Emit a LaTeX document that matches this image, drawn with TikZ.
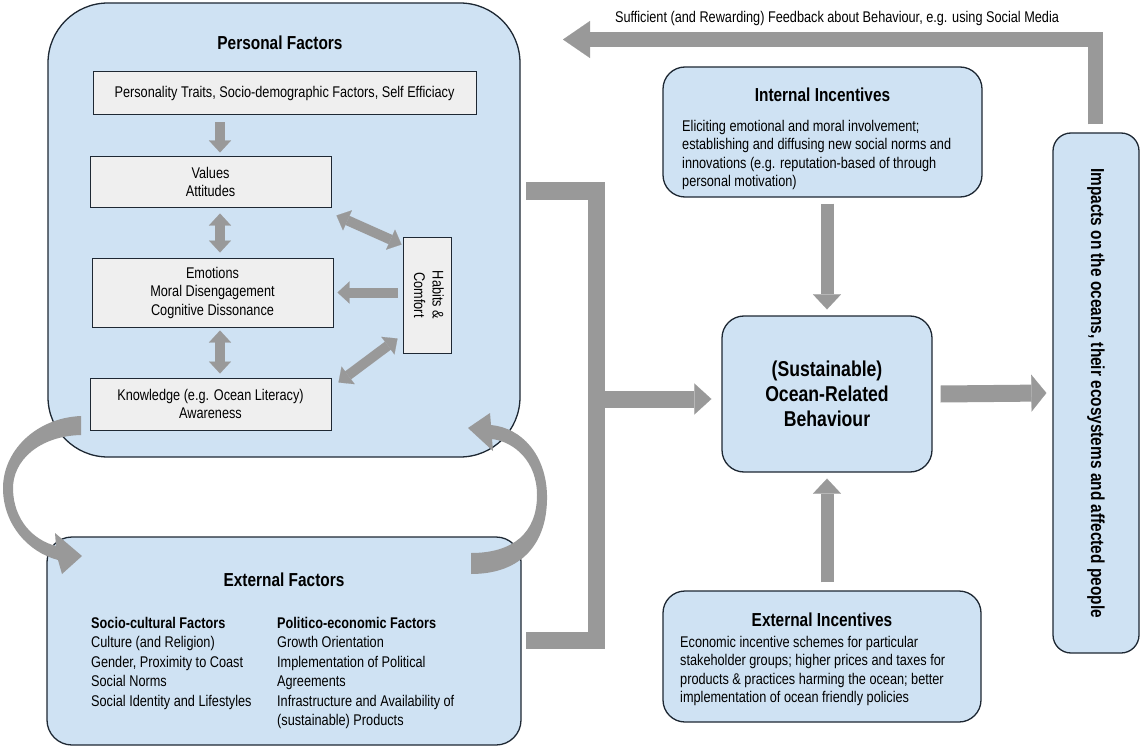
\documentclass[tikz,border=0pt]{standalone}
\usepackage{fontspec}
\setmainfont{Liberation Sans}[FakeStretch=0.82]
\usepackage{graphicx}
\usetikzlibrary{arrows.meta, positioning, calc}

\definecolor{oceanblue}{HTML}{CFE2F3}
\definecolor{edgedark}{HTML}{1E2833}
\definecolor{factorgray}{HTML}{EFEFEF}
\definecolor{flowgray}{HTML}{999999}

\newcommand{\bodyfont}{\fontsize{15.5}{18.5}\selectfont}
\newcommand{\headfont}{\fontsize{18.8}{22}\selectfont\bfseries}

\tikzset{
  bigbox/.style={draw=edgedark, line width=1.3pt, fill=oceanblue},
  factorbox/.style={draw=edgedark, line width=1pt, fill=factorgray, align=center, font=\bodyfont, inner sep=0pt},
  plaintext/.style={inner sep=0pt, font=\bodyfont},
  headtext/.style={inner sep=0pt, font=\headfont},
  smallflow/.style={draw=flowgray, line width=10pt, arrows={-Triangle[width=22pt,length=12pt,line width=0.1pt]}},
  smalltwo/.style={draw=flowgray, line width=10pt, arrows={Triangle[width=22pt,length=12pt,line width=0.1pt]-Triangle[width=22pt,length=12pt,line width=0.1pt]}},
  midflow/.style={draw=flowgray, line width=13pt, arrows={-Triangle[width=28pt,length=15pt,line width=0.1pt]}},
  wideflow/.style={draw=flowgray, line width=17pt, arrows={-Triangle[width=31pt,length=17pt,line width=0.1pt]}},
  rightflow/.style={draw=flowgray, line width=17pt, arrows={-Triangle[width=37pt,length=15pt,line width=0.1pt]}},
  topflow/.style={draw=flowgray, line width=15pt, arrows={-Triangle[width=37pt,length=27pt,line width=0.1pt]}},
  bracketbar/.style={draw=flowgray, line width=17pt}
}

\begin{document}
\begin{tikzpicture}[x=1pt, y=-1pt]
  \useasboundingbox (0,0) rectangle (1141,749);
  \fill[white] (0,0) rectangle (1141,749);

  % Personal factors
  \node[bigbox, rounded corners=60pt, minimum width=472pt, minimum height=454pt] (persbox) at (284,230) {};
  \node[headtext] (perstitle) at (280,43) {Personal Factors};
  \node[factorbox, minimum width=383pt, minimum height=43pt] (traits) at (284.5,93.5) {Personality Traits, Socio-demographic Factors, Self Efficiacy};
  \node[factorbox, minimum width=241pt, minimum height=50pt] (values) at (210.5,182) {Values\\Attitudes};
  \node[factorbox, minimum width=241pt, minimum height=69pt] (emotions) at (212.5,292.5) {Emotions\\Moral Disengagement\\Cognitive Dissonance};
  \node[factorbox, minimum width=241pt, minimum height=52pt] (knowledge) at (210.5,404) {Knowledge (e.g. Ocean Literacy)\\Awareness};
  \node[factorbox, minimum width=48pt, minimum height=116pt] (habits) at (427,295) {\rotatebox{-90}{\begin{tabular}{@{}c@{}}Habits \&\\Comfort\end{tabular}}};

  \draw[smallflow] ($(traits.south)+(-64.5,7)$) -- ($(values.north)+(9.5,-4)$);
  \draw[smalltwo] ($(values.south)+(9.5,6)$) -- ($(emotions.north)+(7.5,-5)$);
  \draw[smalltwo] ($(emotions.south)+(7.5,3)$) -- ($(knowledge.north)+(9.5,-4)$);
  \draw[smalltwo] ($(values.south east)+(5,8)$) -- ($(habits.north west)+(-1,8)$);
  \draw[smallflow] ($(habits.west |- emotions.east)+(-5,0)$) -- ($(emotions.east)+(4,0)$);
  \draw[smalltwo] ($(habits.south west)+(-5,-15)$) -- ($(knowledge.north east)+(7,5)$);

  % External factors
  \node[bigbox, rounded corners=25pt, minimum width=474pt, minimum height=208pt] (extbox) at (284,641) {};
  \node[headtext] (exttitle) at (284,580) {External Factors};
  \node[plaintext, font=\fontsize{15.5}{19.5}\selectfont, align=left, anchor=north west] (sociocult) at (91,617) {\textbf{Socio-cultural Factors}\\Culture (and Religion)\\Gender, Proximity to Coast\\Social Norms\\Social Identity and Lifestyles};
  \node[plaintext, font=\fontsize{15.5}{19.5}\selectfont, align=left, anchor=north west] (politeco) at (277,617) {\textbf{Politico-economic Factors}\\Growth Orientation\\Implementation of Political\\Agreements\\Infrastructure and Availability of\\(sustainable) Products};

  % loop arrows between the two factor boxes
  \fill[flowgray] (81,416) .. controls (35,418) and (2,452) .. (3,490) .. controls (4,525) and (28,552) .. (58,560) -- (62,574) -- (82,556) -- (55,533) -- (56,546) .. controls (33,540) and (14,520) .. (13,490) .. controls (12,460) and (40,436) .. (81,435) -- cycle;
  \fill[flowgray] (471,574) .. controls (522,574) and (548,543) .. (547,495) .. controls (546,455) and (522,428) .. (491,425) -- (490,413) -- (468,428) -- (493,451) -- (492,439) .. controls (515,442) and (537,462) .. (537,495) .. controls (537,533) and (513,553) .. (471,553) -- cycle;

  % Incentives and behaviour
  \node[bigbox, rounded corners=22pt, minimum width=319pt, minimum height=130pt] (intinc) at (822.5,132) {};
  \node[headtext] (inttitle) at (822.5,95) {Internal Incentives};
  \node[plaintext, align=left, anchor=north west] (intbody) at (682,120) {Eliciting emotional and moral involvement;\\establishing and diffusing new social norms and\\innovations (e.g. reputation-based of through\\personal motivation)};

  \node[bigbox, rounded corners=22pt, minimum width=210pt, minimum height=156pt, align=center, font=\fontsize{21.5}{25}\selectfont\bfseries] (behav) at (827,394) {(Sustainable)\\Ocean-Related\\Behaviour};

  \node[bigbox, rounded corners=22pt, minimum width=318pt, minimum height=131pt] (extinc) at (822,656.5) {};
  \node[headtext] (extinctitle) at (822,620) {External Incentives};
  \node[plaintext, align=left, anchor=north west] (extincbody) at (680,636) {Economic incentive schemes for particular\\stakeholder groups; higher prices and taxes for\\products \& practices harming the ocean; better\\implementation of ocean friendly policies};

  \node[bigbox, rounded corners=18pt, minimum width=86pt, minimum height=520pt] (impacts) at (1096,393) {\rotatebox{-90}{\headfont Impacts on the oceans, their ecosystems and affected people}};

  % Bracket from both factor boxes
  \coordinate (brtop) at (526,191);
  \coordinate (brbot) at (526,640.5);
  \coordinate (brmid) at (596.5,399);
  \draw[bracketbar] (brtop) -| (brmid) |- (brbot);
  \draw[wideflow] (brmid) -- ($(behav.west)+(-10,5)$);

  \draw[midflow] ($(intinc.south -| behav.north)+(0,6)$) -- ($(behav.north)+(0,-6)$);
  \draw[midflow] ($(extinc.north -| behav.south)+(0,-8)$) -- ($(behav.south)+(0,6)$);
  \draw[rightflow] ($(behav.east)+(8,0)$) -- ($(impacts.west)+(-6,0)$);

  % Feedback
  \coordinate (fbtip) at (563,39.5);
  \draw[topflow] ($(impacts.north)+(-0.5,-8)$) |- (fbtip);
  \node[plaintext] (fbtext) at (837,18) {Sufficient (and Rewarding) Feedback about Behaviour, e.g. using Social Media};
\end{tikzpicture}
\end{document}
